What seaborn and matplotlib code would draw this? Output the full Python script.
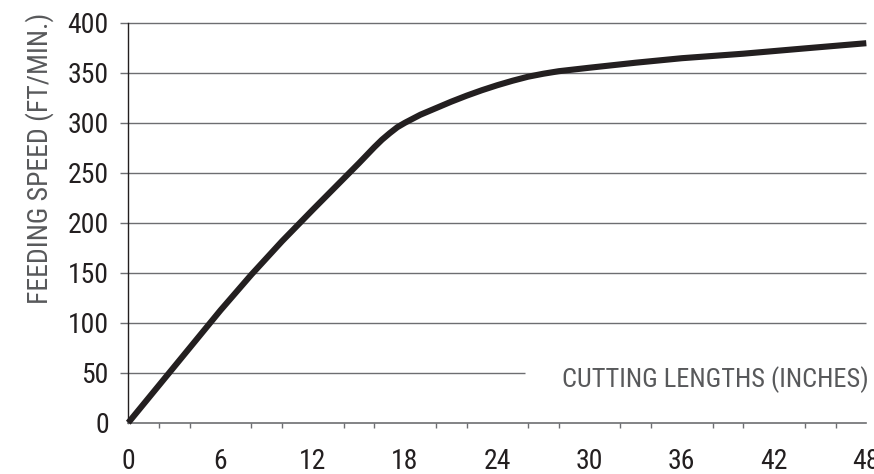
import numpy as np
import pandas as pd
import matplotlib as mpl
mpl.use('Agg')
import matplotlib.pyplot as plt
from matplotlib import font_manager
import seaborn as sns

# cutting length (inches) vs feeding speed (ft/min)
cut_length = [0, 2, 4, 6, 8, 10, 12, 13, 14, 15, 16, 16.5, 17, 17.5, 18, 18.5, 19,
              20, 21, 22, 23, 24, 25, 26, 27, 28, 30, 33, 36, 40, 44, 48]
feed_speed = [0, 37.5, 75, 112.5, 148, 181.5, 213, 228.5, 244, 259.5, 275.5, 283,
              289.5, 295.5, 300, 304, 308, 314.5, 321, 327, 332.5, 337.5, 342, 346,
              349, 351.5, 355, 360, 364.5, 369, 374.3, 379.5]

x_ticks = list(range(0, 49, 6))
y_ticks = list(range(0, 401, 50))

TXT = '#231f20'
LBL = '#58595b'
GRID = '#6d6e71'


def pick_font():
    names = {f.name for f in font_manager.fontManager.ttflist}
    for cand in ['Roboto Condensed', 'Liberation Sans Narrow', 'Open Sans Condensed',
                 'Noto Sans Condensed', 'DejaVu Sans Condensed']:
        if cand in names:
            return cand
    return 'DejaVu Sans'


def main():
    sns.set_style('white')
    fam = pick_font()
    plt.rcParams['font.family'] = [fam, 'DejaVu Sans']
    plt.rcParams['font.stretch'] = 'condensed'

    df = pd.DataFrame({'length': cut_length, 'speed': feed_speed})

    fig = plt.figure(figsize=(8.74, 4.74), dpi=100)
    ax = fig.add_axes([0.1468, 0.1082, 0.8444, 0.8439])

    # horizontal rules; the 50 line stops short to leave room for the x label
    for yv in y_ticks[1:]:
        xmax = 25.8 if yv == 50 else 48
        ax.hlines(yv, -0.52, xmax, colors=GRID, lw=1.0, clip_on=False, zorder=1)

    sns.lineplot(data=df, x='length', y='speed', ax=ax, color=TXT, lw=4.4,
                 solid_capstyle='butt', solid_joinstyle='round', clip_on=False, zorder=3)

    ax.set_xlim(0, 48)
    ax.set_ylim(0, 400)
    ax.set_xticks(x_ticks)
    ax.set_xticks(list(range(0, 49, 2)), minor=True)
    ax.set_yticks(y_ticks)

    for s in ['top', 'right']:
        ax.spines[s].set_visible(False)
    ax.spines['left'].set_color(TXT)
    ax.spines['left'].set_linewidth(1.0)
    ax.spines['bottom'].set_color(GRID)
    ax.spines['bottom'].set_linewidth(1.2)

    ax.tick_params(axis='x', which='both', direction='out', length=3.6, width=1,
                   color=GRID, labelsize=20, labelcolor=TXT, pad=14.5)
    ax.tick_params(axis='x', which='minor', bottom=True)
    ax.tick_params(axis='y', length=0, labelsize=20, labelcolor=TXT, pad=14)

    ax.set_xlabel('CUTTING LENGTHS (INCHES)', fontsize=19, color=LBL, ha='right')
    ax.xaxis.set_label_coords(1.003, 0.108)
    ax.xaxis.label.set_va('center')
    ax.set_ylabel('FEEDING SPEED (FT/MIN.)', fontsize=20, color=LBL)
    ax.yaxis.set_label_coords(-0.12, 0.662)
    ax.yaxis.label.set_va('center')

    fig.savefig('out.png', dpi=100)


if __name__ == '__main__':
    main()
